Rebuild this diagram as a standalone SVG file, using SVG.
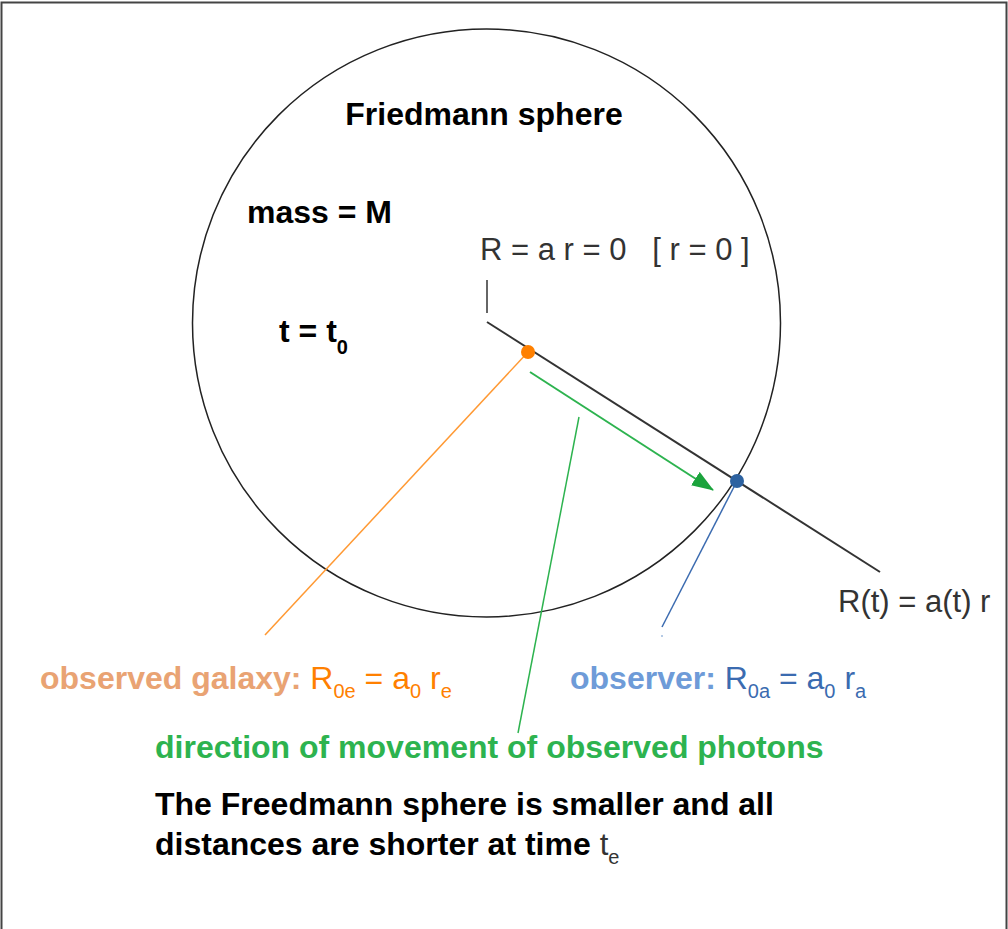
<svg xmlns="http://www.w3.org/2000/svg" width="1008" height="929" viewBox="0 0 1008 929">
<defs>
<style>
.b{font-family:"Liberation Sans",Arial,sans-serif;font-weight:bold;font-size:32px;fill:#000}
.r{font-family:"Liberation Sans",Arial,sans-serif;font-size:31px;fill:#333}
.og{fill:#E9A373;font-weight:bold}
.o{fill:#FF8000}
.bl{fill:#6E9BD8;font-weight:bold}
.bd{fill:#3B6BB0}
.g{fill:#2DB34F;font-weight:bold}
.sub{font-size:20px}
</style>
<marker id="ah" markerWidth="22" markerHeight="16" refX="21" refY="8" orient="auto" markerUnits="userSpaceOnUse" viewBox="0 0 22 16">
<path d="M0,0 L22,8 L0,16 z" fill="#1BA33C"/>
</marker>
</defs>
<rect x="0" y="0" width="1008" height="929" fill="#fff"/>
<path d="M1.5,929 V2.5 H1006.5 V929" fill="none" stroke="#444" stroke-width="2"/>
<g id="sphere">
<circle cx="486.5" cy="323" r="294" fill="none" stroke="#222" stroke-width="1.5"/>
<text class="b" x="484" y="125" text-anchor="middle">Friedmann sphere</text>
<text class="b" x="247" y="223">mass = M</text>
<text class="b" x="279" y="342">t = t<tspan class="sub" dy="12">0</tspan></text>
</g>
<g id="connectors">
<line x1="487" y1="280" x2="487" y2="313" stroke="#333" stroke-width="1.5"/>
<line x1="487" y1="322" x2="880" y2="572" stroke="#333" stroke-width="2"/>
<line x1="528" y1="352" x2="265" y2="635" stroke="#FF9933" stroke-width="1.5"/>
<line x1="737" y1="481" x2="662" y2="627" stroke="#3B6BB0" stroke-width="1.5"/>
<circle cx="662" cy="636" r="1" fill="#9DB8DD"/>
<line x1="530" y1="372" x2="713" y2="490" stroke="#2DB34F" stroke-width="2" marker-end="url(#ah)"/>
<line x1="579" y1="417" x2="518" y2="733" stroke="#2DB34F" stroke-width="1.5"/>
</g>
<g id="origin">
<text class="r" x="480" y="260" xml:space="preserve">R = a r = 0   [ r = 0 ]</text>
</g>
<g id="galaxy">
<circle cx="528" cy="352" r="7" fill="#FF8000"/>
<text class="b" x="40" y="689"><tspan class="og">observed galaxy:</tspan><tspan class="o" font-weight="normal"> R<tspan class="sub" dy="9">0e</tspan><tspan dy="-9"> = a</tspan><tspan class="sub" dy="9">0</tspan><tspan dy="-9"> r</tspan><tspan class="sub" dy="9">e</tspan></tspan></text>
</g>
<g id="observer">
<circle cx="737" cy="481" r="7" fill="#2D62A0"/>
<text class="b" x="570" y="689"><tspan class="bl">observer:</tspan><tspan class="bd" font-weight="normal"> R<tspan class="sub" dy="9">0a</tspan><tspan dy="-9"> = a</tspan><tspan class="sub" dy="9">0</tspan><tspan dy="-9"> r</tspan><tspan class="sub" dy="9">a</tspan></tspan></text>
</g>
<g id="rt">
<text class="r" x="838" y="612">R(t) = a(t) r</text>
</g>
<g id="photons">
<text class="b g" x="155" y="758">direction of movement of observed photons</text>
</g>
<g id="note">
<text class="b" x="155" y="815">The Freedmann sphere is smaller and all</text>
<text class="b" x="155" y="855">distances are shorter at time <tspan class="r" font-weight="normal" font-size="28">t</tspan><tspan class="r sub" font-weight="normal" dy="9">e</tspan></text>
</g>
</svg>
